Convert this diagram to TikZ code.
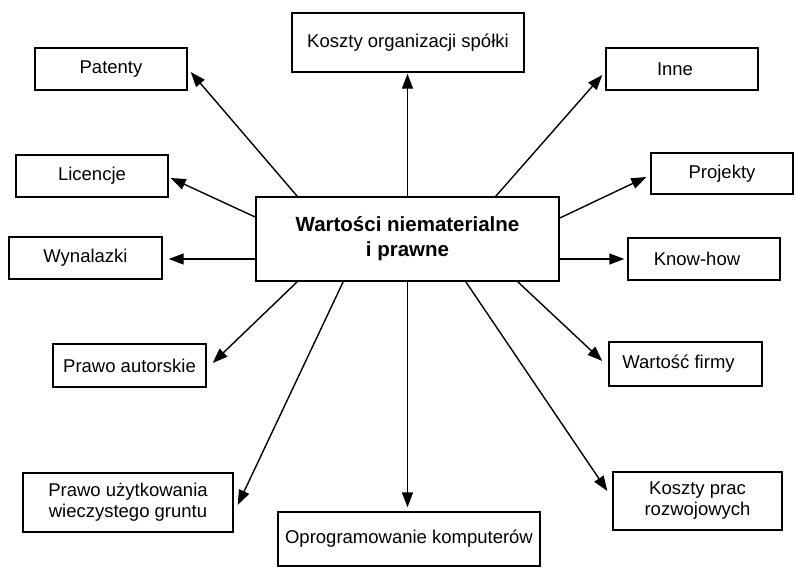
\documentclass[tikz,border=0pt]{standalone}
\usepackage{fontspec}
\setmainfont{Liberation Sans}
\usetikzlibrary{arrows.meta,calc}
\begin{document}
\begin{tikzpicture}[x=1pt,y=-1pt,
  box/.style={draw,line width=1.4pt,inner sep=0pt,align=center,font=\fontsize{18.5}{21}\selectfont},
  mainbox/.style={draw,line width=1.7pt,inner sep=0pt,align=center,font=\fontsize{20.5}{25}\selectfont\bfseries},
  arr/.style={line width=1.4pt,-{Triangle[length=15pt,width=11pt]}}]
\useasboundingbox (0,0) rectangle (795,568);
\node[mainbox,minimum width=303pt,minimum height=84pt] (c) at (407.5,239) {Wartości niematerialne\\i prawne};
\node[box,minimum width=152pt,minimum height=42pt] (pat) at (111,69) {Patenty};
\node[box,minimum width=152pt,minimum height=42pt] (lic) at (92,176) {Licencje};
\node[box,minimum width=153pt,minimum height=42pt] (wyn) at (85.5,258) {Wynalazki};
\node[box,minimum width=232pt,minimum height=59pt] (org) at (408,42.5) {Koszty organizacji spółki};
\node[box,minimum width=152pt,minimum height=42pt] (inne) at (682,69) {\hspace*{-14pt}Inne};
\node[box,minimum width=142pt,minimum height=41pt] (proj) at (722,173.5) {Projekty};
\node[box,minimum width=152pt,minimum height=42pt] (know) at (704,259) {\hspace*{-14pt}Know-how};
\node[box,minimum width=153pt,minimum height=43pt] (aut) at (129.5,365.5) {Prawo autorskie};
\node[box,minimum width=210pt,minimum height=59pt] (uzyt) at (128,502.5) {Prawo użytkowania\\wieczystego gruntu};
\node[box,minimum width=262pt,minimum height=54pt] (opr) at (409,539) {Oprogramowanie komputerów};
\node[box,minimum width=153pt,minimum height=44pt] (wart) at (685.5,364) {\hspace*{-14pt}Wartość firmy};
\node[box,minimum width=169pt,minimum height=58pt] (kpr) at (697.5,501) {Koszty prac\\rozwojowych};
\draw[arr] ($(c.north west)+(42,0)$) -- ($(pat.east)+(3,3)$);
\draw[arr] ($(c.west)+(0,-22)$) -- ($(lic.east)+(2,2)$);
\draw[arr] ($(c.west)+(0,20)$) -- ($(wyn.east)+(6,1)$);
\draw[arr] (c.north) -- ($(org.south)+(-0.5,1)$);
\draw[arr] ($(c.north east)+(-64,0)$) -- ($(inne.west)+(-3,6)$);
\draw[arr] ($(c.east)+(0,-21)$) -- ($(proj.west)+(-4,3.5)$);
\draw[arr] ($(c.east)+(0,20)$) -- ($(know.west)+(-3,0)$);
\draw[arr] ($(c.south west)+(42,0)$) -- ($(aut.east)+(6,-2.5)$);
\draw[arr] ($(c.south west)+(88,0)$) -- ($(uzyt.east)+(4,2.5)$);
\draw[arr] (c.south) -- ($(c.south|-opr.north)+(0,-4)$);
\draw[arr] ($(c.south east)+(-42,0)$) -- ($(wart.west)+(-6,-3)$);
\draw[arr] ($(c.south east)+(-94,0)$) -- ($(kpr.west)+(-5,-10)$);
\end{tikzpicture}
\end{document}
